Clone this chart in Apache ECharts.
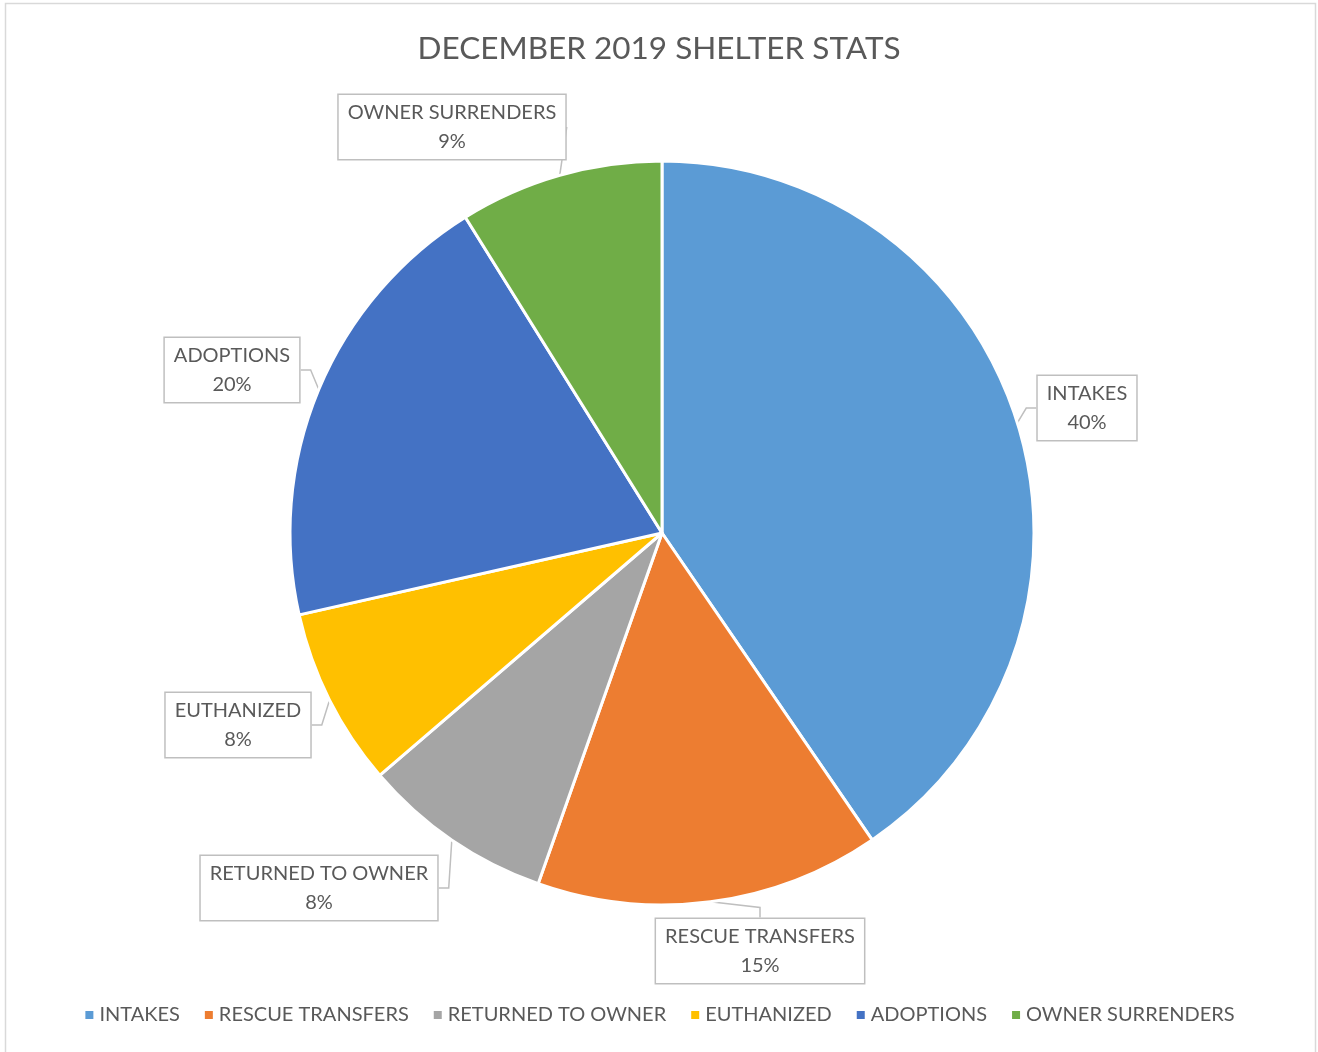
<!DOCTYPE html>
<html>
<head>
<meta charset="utf-8">
<script src="https://cdn.jsdelivr.net/npm/echarts@6/dist/echarts.min.js"></script>
<style>
  html, body { margin: 0; padding: 0; background: #fff; }
  #pie_chart { width: 1318px; height: 1052px; }
</style>
</head>
<body>
<div id="pie_chart"></div>
<script>
// 饼图 - shelter stats
var categories = ['INTAKES', 'RESCUE TRANSFERS', 'RETURNED TO OWNER', 'EUTHANIZED', 'ADOPTIONS', 'OWNER SURRENDERS']
var counts = [146, 54, 30, 28, 71, 32]
var colors = ['#5B9BD5', '#ED7D31', '#A5A5A5', '#FFC000', '#4472C4', '#70AD47']

// label box centres (pixels)
var label_pos = [
    [1087, 408],
    [760, 951],
    [319, 888],
    [238, 725],
    [232, 370],
    [452, 127]
]

var pie_option = {
    color: colors,
    textStyle: {
        fontFamily: 'Lato'
    },
    title: {
        text: 'DECEMBER 2019 SHELTER STATS',
        left: 'center',
        top: 28,
        textStyle: {
            fontFamily: 'Lato',
            fontSize: 31.5,
            fontWeight: 'normal',
            color: '#595959'
        }
    },
    legend: {
        bottom: 22,
        left: 'center',
        icon: 'rect',
        itemWidth: 10,
        itemHeight: 10,
        itemGap: 23,
        data: categories,
        textStyle: {
            fontFamily: 'Lato',
            fontSize: 20,
            color: '#595959'
        }
    },
    graphic: [{
        type: 'rect',
        shape: { x: 5.5, y: 3.5, width: 1310, height: 1060 },
        style: { fill: 'none', stroke: '#d9d9d9', lineWidth: 1.5 },
        silent: true
    }],
    series: [
        {
            type: 'pie',
            center: [662, 533],
            radius: 372,
            startAngle: 90,
            clockwise: true,
            percentPrecision: 0,
            data: categories.map(function (name, i) {
                return { name: name, value: counts[i] };
            }),
            itemStyle: {
                borderColor: '#fff',
                borderWidth: 3
            },
            label: {
                show: true,
                formatter: '{b}\n{d}%',
                fontFamily: 'Lato',
                fontSize: 20,
                lineHeight: 29,
                color: '#595959',
                align: 'center',
                backgroundColor: '#fff',
                borderColor: '#bfbfbf',
                borderWidth: 1.5,
                padding: [4, 9, 2, 9]
            },
            labelLine: {
                show: true,
                length: 10,
                length2: 10,
                lineStyle: {
                    color: '#bfbfbf',
                    width: 1.5
                }
            },
            labelLayout: function (params) {
                var p = label_pos[params.dataIndex];
                return {
                    x: p[0],
                    y: p[1],
                    align: 'center',
                    verticalAlign: 'middle'
                };
            },
            emphasis: { scale: false }
        }
    ]
};

var pie_echarts = echarts.init(document.getElementById('pie_chart'), null, {renderer: 'canvas'});
pie_echarts.setOption(pie_option);
</script>
</body>
</html>
